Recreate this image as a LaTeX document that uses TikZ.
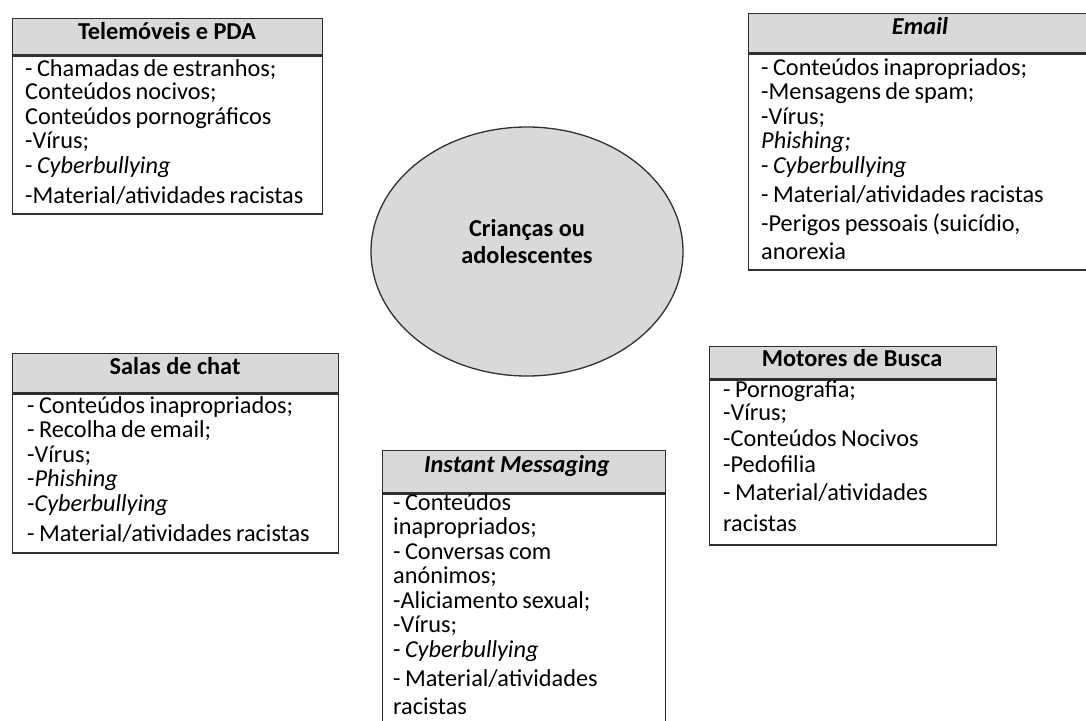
\documentclass[tikz,border=0pt]{standalone}
\usepackage{fontspec}
\setmainfont{Carlito}[WordSpace=0.8]
\newfontfamily\cabfonte{Carlito}
\usepackage{tikz}
\usetikzlibrary{positioning,shapes.geometric}
\definecolor{cinza}{HTML}{D9D9D9}
\definecolor{traco}{HTML}{303030}
\newcommand{\letra}{\fontsize{24.3}{24.5}\selectfont\lineskiplimit=-40pt\relax}
\tikzset{
  cabeca/.style={draw=traco, line width=1.3pt, fill=cinza, rectangle, inner sep=0pt, anchor=north west},
  corpo/.style={draw=traco, line width=1.3pt, fill=white, rectangle, inner sep=0pt, anchor=north west},
  titulo/.style={anchor=base, inner sep=0pt, font=\letra\cabfonte\bfseries},
  itens/.style={anchor=base west, inner sep=0pt, text width=290pt, align=flush left, font=\letra},
  centro/.style={draw=traco, ellipse, line width=1.3pt, fill=cinza, minimum width=312pt, minimum height=249pt, inner sep=0pt}
}

\begin{document}
\begin{tikzpicture}[x=1pt,y=-1pt]
  \useasboundingbox (0,0) rectangle (1086,720);
  \clip (0,0) rectangle (1086,720);

  % centre
  \node[centro, label={[font=\letra\cabfonte\bfseries, align=center, yshift=10pt]center:Crianças ou\\[2pt]adolescentes}] (jovens) at (527,251.5) {};

  % Telemoveis e PDA
  \node[cabeca, minimum width=310pt, minimum height=36pt] (telhead) at (12,18) {};
  \node[corpo, minimum width=310pt, minimum height=158pt] (telbody) at (telhead.south west) {};
  \node[titulo] (teltitle) at (167,39) {Telemóveis e PDA};
  \node[itens] (telitems) at (25,76) {- Chamadas de estranhos;\\[-1pt]
    Conteúdos nocivos;\\
    Conteúdos pornográficos\\
    -Vírus;\\
    - \textit{Cyberbullying}\\[6pt]
    -Material/atividades racistas};

  % Email
  \node[cabeca, minimum width=344pt, minimum height=39pt] (mailhead) at (748,13) {};
  \node[corpo, minimum width=344pt, minimum height=216pt] (mailbody) at (mailhead.south west) {};
  \node[titulo, font=\letra\cabfonte\bfseries\itshape] (mailtitle) at (920,34) {Email};
  \node[itens, text width=320pt] (mailitems) at (761,75) {- Conteúdos inapropriados;\\
    -Mensagens de spam;\\
    -Vírus;\\
    \textit{Phishing;}\\
    - \textit{Cyberbullying}\\[5pt]
    - Material/atividades racistas\\[4pt]
    -Perigos pessoais (suicídio,\\[4pt]
    anorexia};

  % Salas de chat
  \node[cabeca, minimum width=326pt, minimum height=39pt] (chathead) at (12,353) {};
  \node[corpo, minimum width=326pt, minimum height=159pt] (chatbody) at (chathead.south west) {};
  \node[titulo] (chattitle) at (175,374) {Salas de chat};
  \node[itens, text width=305pt] (chatitems) at (27,413) {- Conteúdos inapropriados;\\
    - Recolha de email;\\
    -Vírus;\\
    -\textit{Phishing}\\
    -\textit{Cyberbullying}\\[6pt]
    - Material/atividades racistas};

  % Motores de Busca
  \node[cabeca, minimum width=287pt, minimum height=32pt] (buscahead) at (709,346) {};
  \node[corpo, minimum width=287pt, minimum height=165pt] (buscabody) at (buscahead.south west) {};
  \node[titulo] (buscatitle) at (852,366) {Motores de Busca};
  \node[itens, text width=265pt] (buscaitems) at (723,397) {- Pornografia;\\[-1pt]
    -Vírus;\\[1pt]
    -Conteúdos Nocivos\\[2pt]
    -Pedofilia\\[3.5pt]
    - Material/atividades\\[6pt]
    racistas};

  % Instant Messaging
  \node[cabeca, minimum width=283pt, minimum height=42pt] (imhead) at (382,450) {};
  \node[corpo, minimum width=283pt, minimum height=268pt] (imbody) at (imhead.south west) {};
  \node[titulo, font=\letra\cabfonte\bfseries\itshape] (imtitle) at (517,472) {Instant Messaging};
  \node[itens, text width=265pt] (imitems) at (393,510) {- Conteúdos\\
    inapropriados;\\
    - Conversas com\\
    anónimos;\\
    -Aliciamento sexual;\\
    -Vírus;\\
    - \textit{Cyberbullying}\\[5pt]
    - Material/atividades\\[3pt]
    racistas};
\end{tikzpicture}
\end{document}
